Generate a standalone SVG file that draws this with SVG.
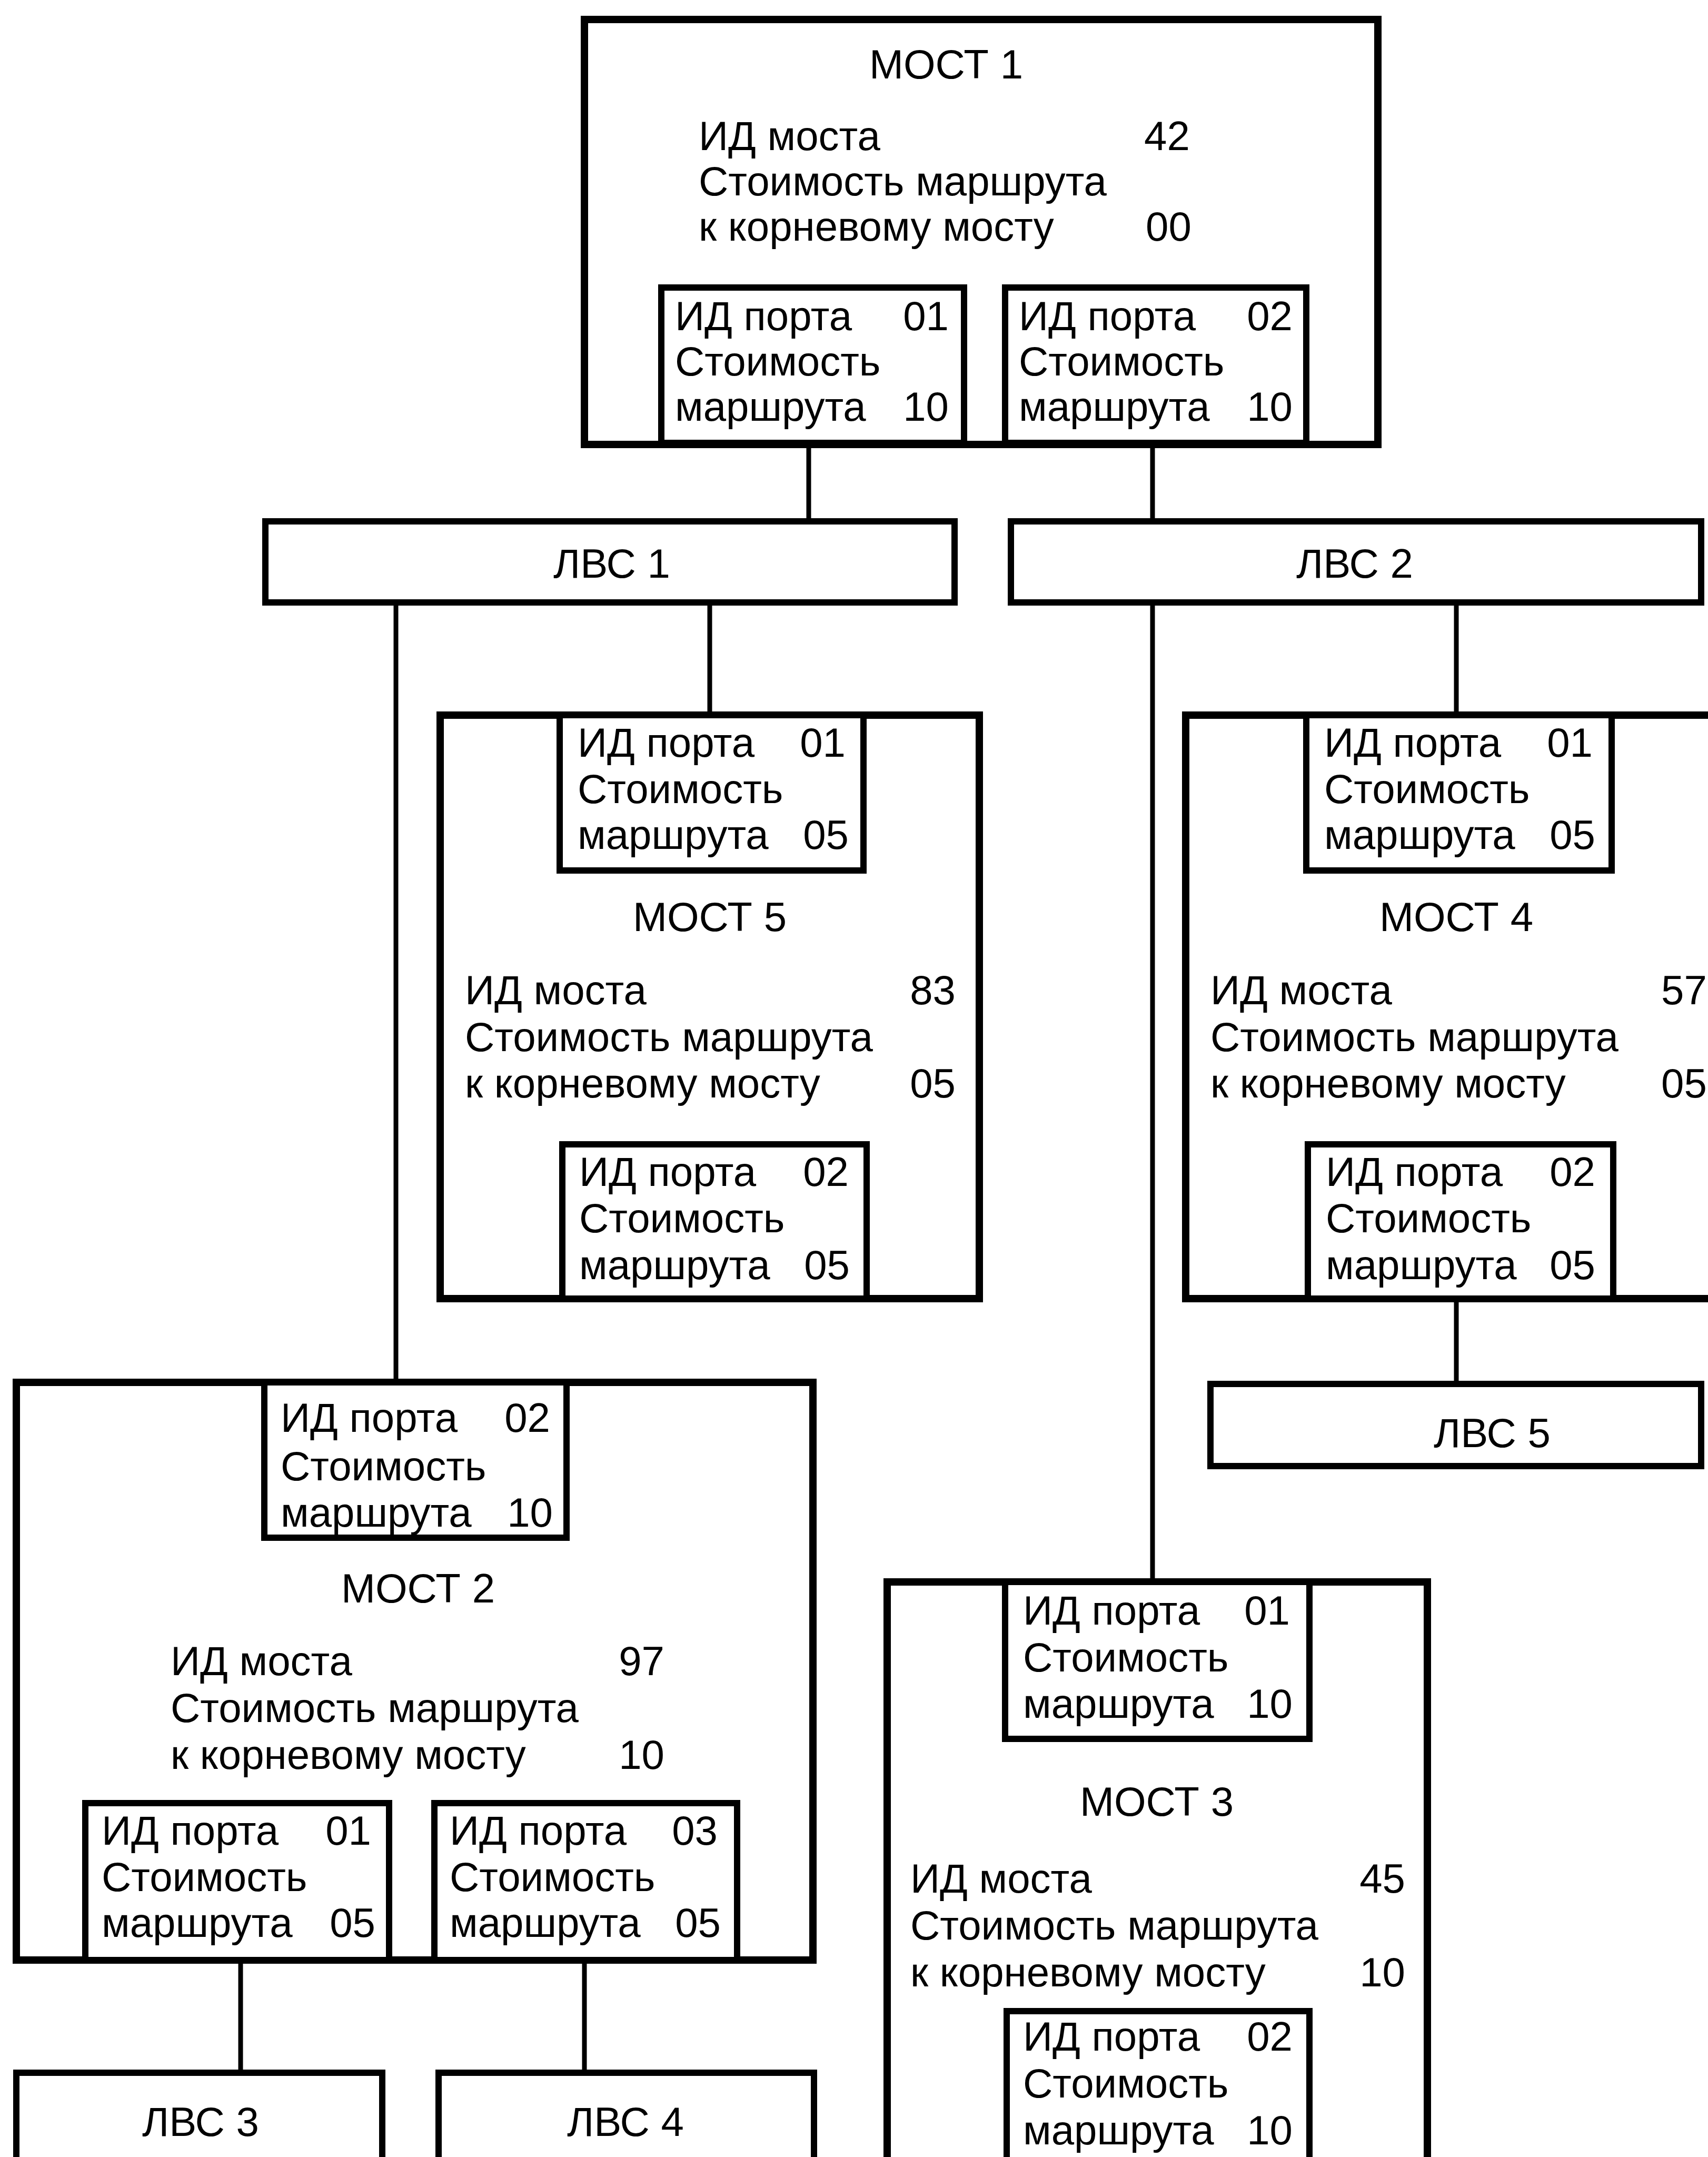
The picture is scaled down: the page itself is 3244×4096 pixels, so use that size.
<svg xmlns="http://www.w3.org/2000/svg" width="3244" height="4096" viewBox="0 0 3244 4096">
<style>
.br{fill:#fff;stroke:#000;stroke-width:14}
.pt{fill:#fff;stroke:#000;stroke-width:12}
.lan{fill:#fff;stroke:#000;stroke-width:12}
.cn{stroke:#000;stroke-width:9;fill:none}
text{font-family:"Liberation Sans",Arial,sans-serif;font-size:78px;fill:#000}
.m{text-anchor:middle}
.e{text-anchor:end}
</style>
<rect width="3244" height="4096" fill="#fff"/>
<g id="connectors">
<line class="cn" x1="1536" y1="844" x2="1536" y2="990"/>
<line class="cn" x1="2189" y1="844" x2="2189" y2="990"/>
<line class="cn" x1="752" y1="1144" x2="752" y2="2625"/>
<line class="cn" x1="1348" y1="1144" x2="1348" y2="1358"/>
<line class="cn" x1="2189" y1="1144" x2="2189" y2="3004"/>
<line class="cn" x1="2766" y1="1144" x2="2766" y2="1358"/>
<line class="cn" x1="2766" y1="2466" x2="2766" y2="2628"/>
<line class="cn" x1="457" y1="3722" x2="457" y2="3936"/>
<line class="cn" x1="1110" y1="3722" x2="1110" y2="3936"/>
</g>
<g id="bridge1">
<rect class="br" x="1110" y="37" width="1507" height="807"/>
<text class="m" x="1797" y="149">МОСТ 1</text>
<text x="1327" y="285">ИД моста</text><text x="2173" y="285">42</text>
<text x="1327" y="371">Стоимость маршрута</text>
<text x="1327" y="457">к корневому мосту</text><text x="2176" y="457">00</text>
<g id="bridge1-port1">
<rect class="pt" x="1256" y="546" width="575" height="295"/>
<text x="1282" y="627">ИД порта</text><text class="e" x="1802" y="627">01</text>
<text x="1282" y="713">Стоимость</text>
<text x="1282" y="799">маршрута</text><text class="e" x="1802" y="799">10</text>
</g>
<g id="bridge1-port2">
<rect class="pt" x="1909" y="546" width="572" height="295"/>
<text x="1935" y="627">ИД порта</text><text class="e" x="2455" y="627">02</text>
<text x="1935" y="713">Стоимость</text>
<text x="1935" y="799">маршрута</text><text class="e" x="2455" y="799">10</text>
</g>
</g>
<g id="lan1">
<rect class="lan" x="504" y="990" width="1309" height="154"/>
<text class="m" x="1162" y="1097">ЛВС 1</text>
</g>
<g id="lan2">
<rect class="lan" x="1920" y="990" width="1311" height="154"/>
<text class="m" x="2573" y="1097">ЛВС 2</text>
</g>
<g id="bridge5">
<rect class="br" x="836" y="1358" width="1024" height="1108"/>
<g id="bridge5-port1">
<rect class="pt" x="1063" y="1358" width="577" height="295"/>
<text x="1097" y="1437">ИД порта</text><text class="e" x="1606" y="1437">01</text>
<text x="1097" y="1525">Стоимость</text>
<text x="1097" y="1612">маршрута</text><text class="e" x="1612" y="1612">05</text>
</g>
<text class="m" x="1348" y="1768">МОСТ 5</text>
<text x="883" y="1907">ИД моста</text><text class="e" x="1815" y="1907">83</text>
<text x="883" y="1996">Стоимость маршрута</text>
<text x="883" y="2084">к корневому мосту</text><text class="e" x="1815" y="2084">05</text>
<g id="bridge5-port2">
<rect class="pt" x="1068" y="2173" width="578" height="293"/>
<text x="1100" y="2252">ИД порта</text><text class="e" x="1612" y="2252">02</text>
<text x="1100" y="2340">Стоимость</text>
<text x="1100" y="2429">маршрута</text><text class="e" x="1614" y="2429">05</text>
</g>
</g>
<g id="bridge4">
<rect class="br" x="2252" y="1358" width="1100" height="1108"/>
<g id="bridge4-port1">
<rect class="pt" x="2481" y="1358" width="580" height="295"/>
<text x="2515" y="1437">ИД порта</text><text class="e" x="3025" y="1437">01</text>
<text x="2515" y="1525">Стоимость</text>
<text x="2515" y="1612">маршрута</text><text class="e" x="3030" y="1612">05</text>
</g>
<text class="m" x="2766" y="1768">МОСТ 4</text>
<text x="2299" y="1907">ИД моста</text><text x="3155" y="1907">57</text>
<text x="2299" y="1996">Стоимость маршрута</text>
<text x="2299" y="2084">к корневому мосту</text><text x="3155" y="2084">05</text>
<g id="bridge4-port2">
<rect class="pt" x="2484" y="2173" width="580" height="293"/>
<text x="2518" y="2252">ИД порта</text><text class="e" x="3030" y="2252">02</text>
<text x="2518" y="2340">Стоимость</text>
<text x="2518" y="2429">маршрута</text><text class="e" x="3030" y="2429">05</text>
</g>
</g>
<g id="lan5">
<rect class="lan" x="2299" y="2628" width="932" height="156"/>
<text class="m" x="2834" y="2748">ЛВС 5</text>
</g>
<g id="bridge2">
<rect class="br" x="31" y="2625" width="1513" height="1097"/>
<g id="bridge2-port2">
<rect class="pt" x="502" y="2625" width="574" height="295"/>
<text x="533" y="2719">ИД порта</text><text class="e" x="1045" y="2719">02</text>
<text x="533" y="2811">Стоимость</text>
<text x="533" y="2899">маршрута</text><text class="e" x="1050" y="2899">10</text>
</g>
<text class="m" x="794" y="3043">МОСТ 2</text>
<text x="324" y="3181">ИД моста</text><text class="e" x="1262" y="3181">97</text>
<text x="324" y="3270">Стоимость маршрута</text>
<text x="324" y="3359">к корневому мосту</text><text class="e" x="1262" y="3359">10</text>
<g id="bridge2-port1">
<rect class="pt" x="162" y="3424" width="577" height="298"/>
<text x="193" y="3503">ИД порта</text><text class="e" x="705" y="3503">01</text>
<text x="193" y="3591">Стоимость</text>
<text x="193" y="3678">маршрута</text><text class="e" x="713" y="3678">05</text>
</g>
<g id="bridge2-port3">
<rect class="pt" x="825" y="3424" width="575" height="298"/>
<text x="854" y="3503">ИД порта</text><text class="e" x="1363" y="3503">03</text>
<text x="854" y="3591">Стоимость</text>
<text x="854" y="3678">маршрута</text><text class="e" x="1369" y="3678">05</text>
</g>
</g>
<g id="lan3">
<rect class="lan" x="31" y="3936" width="695" height="300"/>
<text class="m" x="381" y="4056">ЛВС 3</text>
</g>
<g id="lan4">
<rect class="lan" x="833" y="3936" width="713" height="300"/>
<text class="m" x="1188" y="4056">ЛВС 4</text>
</g>
<g id="bridge3">
<rect class="br" x="1685" y="3004" width="1026" height="1200"/>
<g id="bridge3-port1">
<rect class="pt" x="1909" y="3004" width="578" height="298"/>
<text x="1943" y="3085">ИД порта</text><text class="e" x="2450" y="3085">01</text>
<text x="1943" y="3174">Стоимость</text>
<text x="1943" y="3262">маршрута</text><text class="e" x="2455" y="3262">10</text>
</g>
<text class="m" x="2197" y="3448">МОСТ 3</text>
<text x="1729" y="3594">ИД моста</text><text class="e" x="2669" y="3594">45</text>
<text x="1729" y="3683">Стоимость маршрута</text>
<text x="1729" y="3772">к корневому мосту</text><text class="e" x="2669" y="3772">10</text>
<g id="bridge3-port2">
<rect class="pt" x="1912" y="3819" width="575" height="400"/>
<text x="1943" y="3894">ИД порта</text><text class="e" x="2455" y="3894">02</text>
<text x="1943" y="3983">Стоимость</text>
<text x="1943" y="4072">маршрута</text><text class="e" x="2455" y="4072">10</text>
</g>
</g>
</svg>
